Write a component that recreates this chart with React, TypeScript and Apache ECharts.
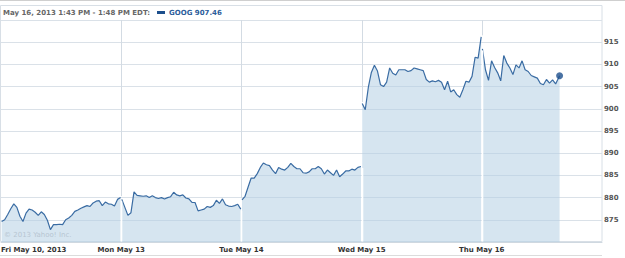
import React, { useEffect, useRef } from "react";
import * as echarts from "echarts";

// ---- data ----
const dayLabels = ["Fri May 10, 2013", "Mon May 13", "Tue May 14", "Wed May 15", "Thu May 16"];
const headerText = "May 16, 2013 1:43 PM - 1:48 PM EDT:";
const ticker = "GOOG";
const copyright = "© 2013 Yahoo! Inc.";

// prices every 10 minutes from the 9:30 open
const fri = [874.6, 875.0, 876.2, 877.5, 878.6, 877.8, 875.8, 874.6, 876.5, 877.4, 877.2, 876.7, 876.0, 876.8, 876.2, 874.9, 872.8, 873.9, 873.9, 874.0, 873.9, 875.0, 875.4, 876.0, 876.9, 877.2, 877.6, 877.9, 878.2, 878.0, 878.8, 879.2, 879.3, 878.2, 879.0, 878.6, 878.5, 878.1, 879.6, 880.0];
const mon = [879.6, 877.8, 876.0, 876.6, 881.3, 880.5, 880.4, 880.3, 880.4, 880.0, 880.4, 880.0, 879.8, 880.0, 879.7, 880.0, 880.2, 881.2, 880.6, 880.4, 880.6, 879.9, 879.7, 878.9, 878.9, 877.0, 877.2, 877.4, 878.0, 877.8, 878.2, 879.4, 878.7, 879.7, 878.4, 878.1, 878.0, 878.2, 878.5, 877.4];
const tue = [879.5, 880.3, 882.4, 884.4, 884.4, 885.4, 886.8, 887.8, 887.4, 887.2, 886.2, 885.4, 886.8, 886.4, 886.2, 886.8, 887.7, 887.0, 886.5, 886.5, 885.6, 885.5, 885.8, 886.5, 886.5, 887.0, 886.5, 885.3, 886.2, 885.6, 885.0, 886.2, 884.7, 885.3, 886.0, 886.0, 886.4, 886.2, 886.8, 887.0];
const wed = [901.2, 899.8, 904.8, 908.2, 909.8, 908.5, 905.4, 905.0, 906.0, 909.2, 908.0, 907.6, 908.8, 908.8, 908.8, 908.4, 908.6, 909.2, 909.0, 908.8, 908.6, 906.6, 906.0, 906.3, 906.1, 906.4, 906.0, 904.3, 906.2, 903.8, 904.3, 903.2, 902.6, 904.3, 906.2, 906.0, 907.3, 911.6, 911.4, 916.2];
const thu = [913.5, 908.8, 906.4, 910.8, 909.3, 908.1, 906.3, 912.0, 910.3, 909.2, 907.7, 909.9, 909.2, 910.8, 908.8, 908.4, 907.5, 907.2, 906.9, 905.7, 905.4, 906.6, 905.8, 906.5, 905.6, 907.46];
const lastMinute = 253; // 1:43 PM

const yMin = 870;
const yMax = 920;
const yStep = 5;
const SESSION = 390; // minutes per trading day
const STEP = 10;

const FONT = "DejaVu Sans";

export default function App() {
  const ref = useRef<HTMLDivElement>(null);

  useEffect(() => {
    const chart = echarts.init(ref.current!, null, { renderer: "svg" });
    const days = [fri, mon, tue, wed, thu];
    const EPS = 2;
    const toX = (d: number, t: number) => d * SESSION + EPS + (t * (SESSION - 2 * EPS)) / SESSION;

    const daySeries = days.map((vals, d) => ({
      name: ticker,
      type: "line",
      symbol: "none",
      silent: true,
      data: vals.map((v, i) => {
        const t = d === days.length - 1 && i === vals.length - 1 ? lastMinute : i * STEP;
        return [toX(d, t), v];
      }),
      lineStyle: { color: "#3a6ca3", width: 1.2 },
      itemStyle: { color: "#1d4f8c" },
      areaStyle: { color: "rgba(180,208,228,0.55)", opacity: 1, origin: "start" },
      z: 2,
    }));

    const bounds = [1, 2, 3, 4].map((b) => {
      const a = days[b - 1][days[b - 1].length - 1];
      const c = days[b][0];
      return [b * SESSION, Math.max(a, c), Math.min(a, c)];
    });

    const last = thu[thu.length - 1];

    chart.setOption({
      animation: false,
      grid: { left: 1, right: 23, top: 20, bottom: 16, outerBoundsMode: "none" },
      legend: {
        data: [{ name: ticker, icon: "rect" }],
        left: 157,
        top: 9,
        padding: 0,
        itemWidth: 8,
        itemHeight: 3,
        selectedMode: false,
        formatter: (n: string) => `${n} ${last.toFixed(2)}`,
        textStyle: { color: "#2b5c9a", fontWeight: "bold", fontSize: 7, fontFamily: FONT, padding: [0, 0, 0, -1] },
      },
      xAxis: {
        type: "value",
        min: 0,
        max: SESSION * 5,
        interval: SESSION,
        splitLine: { show: false },
        axisTick: { show: false },
        axisLine: { show: true, lineStyle: { color: "#cfd8e0" } },
        axisLabel: {
          formatter: (v: number) => dayLabels[Math.round(v / SESSION)] ?? "",
          showMaxLabel: false,
          alignMinLabel: "left",
          margin: 4,
          color: "#333",
          fontWeight: "bold",
          fontSize: 7,
          fontFamily: FONT,
        },
      },
      yAxis: {
        type: "value",
        position: "right",
        min: yMin,
        max: yMax,
        interval: yStep,
        axisLine: { show: false },
        axisTick: { show: false },
        splitLine: { lineStyle: { color: "#dae1e8" } },
        axisLabel: {
          showMinLabel: false,
          showMaxLabel: false,
          margin: 2,
          color: "#555",
          fontWeight: "bold",
          fontSize: 7,
          fontFamily: FONT,
        },
      },
      series: [
        ...daySeries,
        {
          type: "custom",
          silent: true,
          z: 3,
          data: bounds,
          encode: { x: 0, y: 1 },
          renderItem: (_p: any, api: any) => {
            const x = api.value(0);
            const up = api.value(1);
            const lo = api.value(2);
            const pTop = api.coord([x, yMax]);
            const pUp = api.coord([x, up]);
            const pLo = api.coord([x, lo]);
            const pBot = api.coord([x, yMin]);
            const px = Math.round(pTop[0]) + 0.5;
            return {
              type: "group",
              children: [
                { type: "line", shape: { x1: px, y1: pTop[1], x2: px, y2: pUp[1] - 1.5 }, style: { stroke: "#d3dbe3", lineWidth: 1 } },
                { type: "line", shape: { x1: px, y1: pLo[1] + 1.5, x2: px, y2: pBot[1] - 0.5 }, style: { stroke: "#ffffff", lineWidth: 1.6 } },
              ],
            };
          },
        },
        {
          name: "last",
          type: "scatter",
          silent: true,
          z: 4,
          symbolSize: 7,
          itemStyle: { color: "#1d4f8c" },
          data: [[toX(4, lastMinute), last]],
        },
      ],
      graphic: [
        { type: "line", shape: { x1: 0, y1: 0.5, x2: 625, y2: 0.5 }, style: { stroke: "#cfcfcf", lineWidth: 1 }, silent: true },
        { type: "rect", shape: { x: 0.5, y: 5.5, width: 601.5, height: 236 }, style: { fill: "none", stroke: "#d8dfe6", lineWidth: 1 }, silent: true },
        { type: "line", shape: { x1: 0, y1: 255.5, x2: 602, y2: 255.5 }, style: { stroke: "#dcdcdc", lineWidth: 1 }, silent: true },
        {
          type: "text",
          x: 3,
          y: 13,
          silent: true,
          style: { text: headerText, fill: "#666", fontWeight: "bold", fontSize: 7, fontFamily: FONT, verticalAlign: "middle" },
        },
        {
          type: "text",
          x: 4,
          y: 234.5,
          z: 10,
          silent: true,
          style: { text: copyright, fill: "#b6c5d2", fontSize: 7, fontFamily: FONT, verticalAlign: "middle" },
        },
      ],
    });

    return () => chart.dispose();
  }, []);

  return <div ref={ref} style={{ position: "fixed", left: 0, top: 0, width: 625, height: 258, background: "#fff" }} />;
}
